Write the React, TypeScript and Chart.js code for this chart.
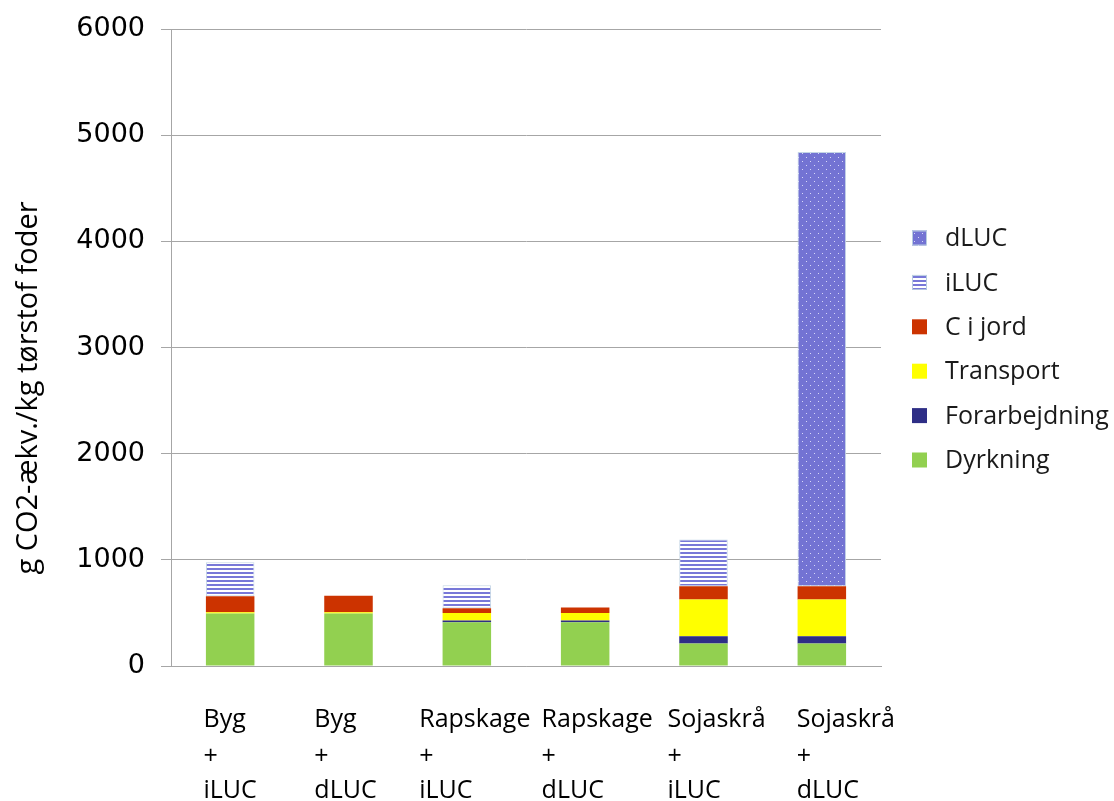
import React, { useEffect, useRef } from "react";
import { Chart, registerables } from "chart.js";

Chart.register(...registerables);

const categories: string[][] = [
  ["Byg", "+", "iLUC"],
  ["Byg", "+", "dLUC"],
  ["Rapskage", "+", "iLUC"],
  ["Rapskage", "+", "dLUC"],
  ["Sojaskrå", "+", "iLUC"],
  ["Sojaskrå", "+", "dLUC"],
];
const dyrkning = [495, 495, 413, 413, 213, 213];
const forarbejdning = [0, 0, 15, 15, 68, 68];
const transport = [12, 12, 72, 72, 345, 345];
const ciJord = [150, 155, 45, 50, 125, 125];
const iLUC = [320, 0, 215, 0, 440, 0];
const dLUC = [0, 0, 0, 0, 0, 4090];
const yTicks = [0, 1000, 2000, 3000, 4000, 5000, 6000];
const yTitle = "g CO2-ækv./kg tørstof foder";

function stripePattern(): CanvasPattern | string {
  const c = document.createElement("canvas");
  c.width = 4;
  c.height = 4;
  const g = c.getContext("2d");
  if (!g) return "#7b7bdb";
  g.fillStyle = "#ffffff";
  g.fillRect(0, 0, 4, 4);
  g.fillStyle = "#7878d8";
  g.fillRect(0, 0, 4, 2);
  return g.createPattern(c, "repeat") || "#7b7bdb";
}

function dotPattern(): CanvasPattern | string {
  const c = document.createElement("canvas");
  c.width = 8;
  c.height = 8;
  const g = c.getContext("2d");
  if (!g) return "#7070d0";
  g.fillStyle = "#7373d3";
  g.fillRect(0, 0, 8, 8);
  g.fillStyle = "#d8d8f8";
  g.fillRect(2, 1, 1, 1);
  g.fillRect(6, 5, 1, 1);
  return g.createPattern(c, "repeat") || "#7070d0";
}

export default function App() {
  const ref = useRef<HTMLCanvasElement>(null);

  useEffect(() => {
    if (!ref.current) return;
    const stripes = stripePattern();
    const dots = dotPattern();
    const labelFont = '25px "Open Sans", sans-serif';
    const labelNudge = [0, -3, 8, 12, 13, 24];
    const labelLineY = [720, 757, 791];

    const legendItems = [
      { label: "dLUC", fill: dots, border: "#b8cde0" },
      { label: "iLUC", fill: stripes, border: "#b8cde0" },
      { label: "C i jord", fill: "#cc3300", border: "" },
      { label: "Transport", fill: "#ffff00", border: "" },
      { label: "Forarbejdning", fill: "#2e2e86", border: "" },
      { label: "Dyrkning", fill: "#92d050", border: "" },
    ];

    const customPlugin = {
      id: "customText",
      afterDraw(chart: any) {
        const ctx = chart.ctx;
        const xs = chart.scales.x;
        ctx.save();
        ctx.font = labelFont;
        ctx.fillStyle = "#000";
        ctx.textBaseline = "middle";
        ctx.textAlign = "left";
        categories.forEach((lines, i) => {
          const cx = xs.getPixelForValue(i);
          const w = Math.max(...lines.map((l) => ctx.measureText(l).width));
          const x0 = cx - w / 2 + labelNudge[i];
          lines.forEach((l, j) => ctx.fillText(l, x0, labelLineY[j]));
        });
        legendItems.forEach((it, i) => {
          const cy = 238 + i * 44.4;
          ctx.fillStyle = it.fill as any;
          ctx.fillRect(912, cy - 7.5, 15, 15);
          if (it.border) {
            ctx.strokeStyle = it.border;
            ctx.lineWidth = 1;
            ctx.strokeRect(912.5, cy - 7, 14, 14);
          }
          ctx.fillStyle = "#1a1a1a";
          ctx.fillText(it.label, 945, cy + 1);
        });
        ctx.save();
        ctx.translate(29, 388);
        ctx.rotate(-Math.PI / 2);
        ctx.font = '29px "Open Sans", sans-serif';
        ctx.fillStyle = "#000";
        ctx.textAlign = "center";
        ctx.textBaseline = "middle";
        ctx.fillText(yTitle, 0, 0);
        ctx.restore();
        ctx.restore();
      },
    };

    const mk = (label: string, data: number[], bg: any, border: string, bw: number) => ({
      label,
      data,
      backgroundColor: bg,
      borderColor: border,
      borderWidth: bw,
      borderSkipped: false,
      barPercentage: 0.41,
      categoryPercentage: 1,
    });

    const chart = new Chart(ref.current, {
      type: "bar",
      data: {
        labels: categories.map((c) => c.join(" ")),
        datasets: [
          mk("Dyrkning", dyrkning, "#92d050", "rgba(0,0,0,0)", 0),
          mk("Forarbejdning", forarbejdning, "#2e2e86", "rgba(0,0,0,0)", 0),
          mk("Transport", transport, "#ffff00", "rgba(0,0,0,0)", 0),
          mk("C i jord", ciJord, "#cc3300", "rgba(0,0,0,0)", 0),
          mk("iLUC", iLUC, stripes, "#c4d6e6", 1),
          mk("dLUC", dLUC, dots, "#c4d6e6", 1),
        ],
      },
      plugins: [customPlugin],
      options: {
        animation: false,
        responsive: false,
        devicePixelRatio: 1,
        layout: { padding: { top: 29, right: 233, left: 0, bottom: 0 } },
        plugins: {
          legend: { display: false },
          tooltip: { enabled: false },
        },
        scales: {
          x: {
            stacked: true,
            grid: { display: false },
            border: { display: true, color: "#a6a6a6", width: 1 },
            ticks: { display: false },
            afterFit: (s: any) => {
              s.height = 135;
              s.paddingLeft = 0;
              s.paddingRight = 0;
            },
          },
          y: {
            stacked: true,
            min: 0,
            max: 6000,
            afterBuildTicks: (s: any) => {
              s.ticks = yTicks.map((v) => ({ value: v }));
            },
            grid: { color: "#a6a6a6", lineWidth: 1, tickLength: 10, drawTicks: true },
            border: { display: true, color: "#a6a6a6", width: 1 },
            ticks: {
              font: { family: '"DejaVu Sans", sans-serif', size: 27 },
              color: "#000",
              padding: 16,
              callback: (v: any) => String(v),
            },
            title: { display: false },
            afterFit: (s: any) => {
              s.width = 171;
              s.paddingTop = 0;
              s.paddingBottom = 0;
            },
          },
        },
      },
    });
    return () => chart.destroy();
  }, []);

  return (
    <div style={{ position: "fixed", left: 0, top: 0, width: 1114, height: 801, background: "#fff" }}>
      <canvas ref={ref} width={1114} height={801} style={{ width: 1114, height: 801, display: "block" }} />
    </div>
  );
}
